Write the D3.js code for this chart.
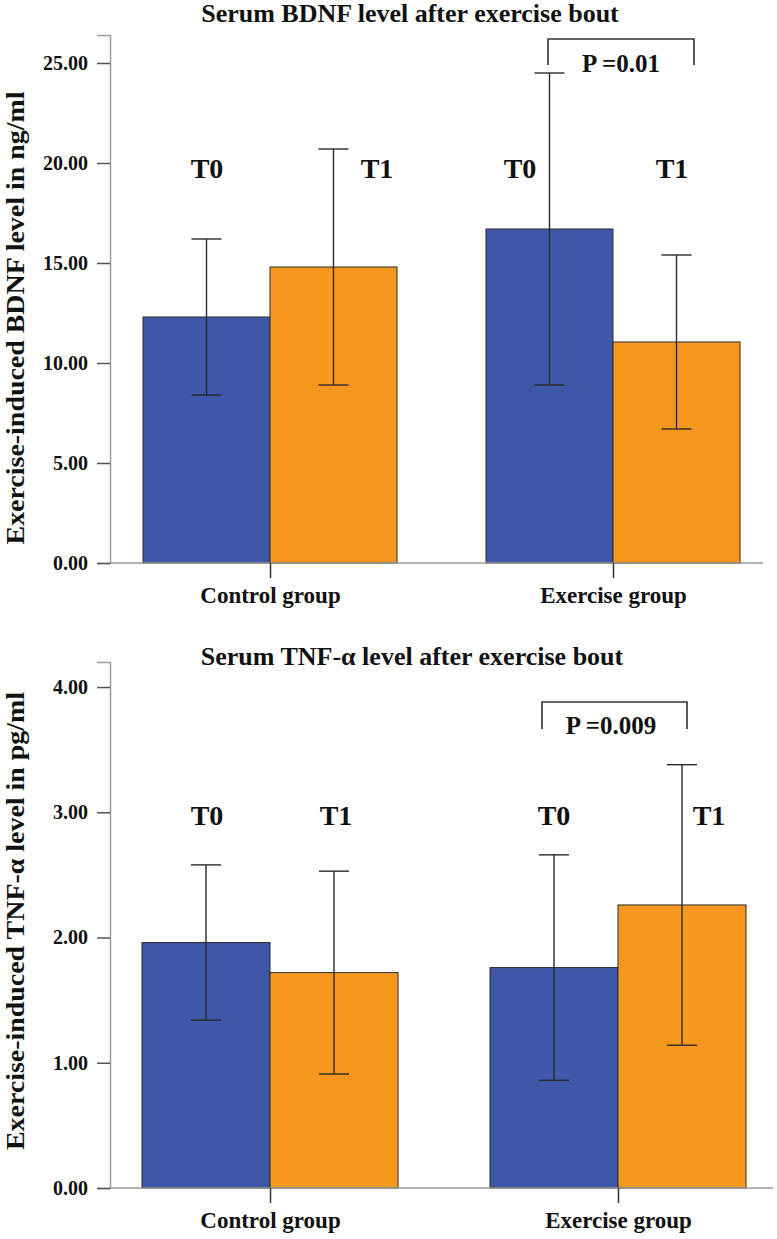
<!DOCTYPE html>
<html>
<head>
<meta charset="utf-8">
<script src="https://cdn.jsdelivr.net/npm/d3@7"></script>
<style>
  html, body { margin: 0; padding: 0; background: #fff; }
  svg { display: block; }
  text { font-family: "Liberation Serif", "Times New Roman", Times, serif; font-weight: bold; fill: #111; }
</style>
</head>
<body>
<svg id="chart" width="777" height="1239"></svg>
<script>
// ---- data ----
const groups = ["Control group", "Exercise group"];
const times = ["T0", "T1"];

const bdnfT0 = [12.3, 16.7];
const bdnfT1 = [14.8, 11.05];
const bdnfErrT0 = [3.9, 7.8];
const bdnfErrT1 = [5.9, 4.35];
const bdnfTicks = [0, 5, 10, 15, 20, 25];

const tnfT0 = [1.96, 1.76];
const tnfT1 = [1.72, 2.26];
const tnfErrT0 = [0.62, 0.90];
const tnfErrT1 = [0.81, 1.12];
const tnfTicks = [0, 1, 2, 3, 4];

const colors = { T0: "#3f57a9", T1: "#f7981e" };
const FONT = "'Liberation Serif', 'Times New Roman', Times, serif";

const svg = d3.select("#chart");

function panel(cfg) {
  const g = svg.append("g");
  const y = d3.scaleLinear().domain([0, cfg.yMax]).range([cfg.y0, cfg.yTop]);
  const x = d3.scalePoint().domain(groups).range(cfg.centers);
  const inner = d3.scaleBand().domain(times).range([-cfg.half, cfg.half]).padding(0);

  const rows = [];
  groups.forEach((grp, i) => {
    rows.push({ grp, t: "T0", v: cfg.t0[i], e: cfg.e0[i] });
    rows.push({ grp, t: "T1", v: cfg.t1[i], e: cfg.e1[i] });
  });

  // title
  g.append("text").attr("x", cfg.titleX).attr("y", cfg.titleY)
    .attr("text-anchor", "middle").style("font-size", "26px").style("font-family", FONT)
    .text(cfg.title);

  // y label
  g.append("text")
    .attr("transform", `translate(${cfg.ylabX},${cfg.ylabY}) rotate(-90)`)
    .attr("text-anchor", "middle").style("font-size", "25px").style("font-family", FONT)
    .attr("textLength", cfg.ylabLen).attr("lengthAdjust", "spacingAndGlyphs")
    .text(cfg.ylab);

  // bars
  g.selectAll("rect.bar").data(rows).enter().append("rect")
    .attr("x", d => x(d.grp) + inner(d.t))
    .attr("width", inner.bandwidth())
    .attr("y", d => y(d.v))
    .attr("height", d => y(0) - y(d.v))
    .attr("fill", d => colors[d.t])
    .attr("stroke", "#2b2b2b").attr("stroke-width", 1);

  // error bars
  const ex = d => x(d.grp) + inner(d.t) + inner.bandwidth() / 2;
  const eb = g.selectAll("g.err").data(rows).enter().append("g")
    .attr("stroke", "#2a2a2a").attr("stroke-width", 1.4);
  eb.append("line").attr("x1", ex).attr("x2", ex)
    .attr("y1", d => y(d.v + d.e)).attr("y2", d => y(d.v - d.e));
  eb.append("line").attr("x1", d => ex(d) - 15).attr("x2", d => ex(d) + 15)
    .attr("y1", d => y(d.v + d.e)).attr("y2", d => y(d.v + d.e));
  eb.append("line").attr("x1", d => ex(d) - 15).attr("x2", d => ex(d) + 15)
    .attr("y1", d => y(d.v - d.e)).attr("y2", d => y(d.v - d.e));

  // y axis
  const ya = d3.axisLeft(y).tickValues(cfg.ticks).tickFormat(d3.format(".2f"))
    .tickSize(13).tickPadding(9);
  const yg = g.append("g").attr("transform", `translate(${cfg.xAxis},0)`).call(ya);
  yg.select(".domain").attr("stroke", "#9a9a9a").attr("stroke-width", 1.5);
  yg.selectAll(".tick line").attr("stroke", "#555").attr("stroke-width", 1.5);
  yg.selectAll(".tick text").style("font-size", "20px")
    .style("font-family", FONT).style("font-weight", "bold").attr("fill", "#111");

  // x baseline
  g.append("line").attr("x1", cfg.xAxis).attr("x2", cfg.xEnd)
    .attr("y1", y(0)).attr("y2", y(0)).attr("stroke", "#9a9a9a").attr("stroke-width", 1.5);

  // x axis (category ticks + labels)
  const xa = d3.axisBottom(x).tickSize(15).tickPadding(cfg.xPad);
  const xg = g.append("g").attr("transform", `translate(0,${y(0)})`).call(xa);
  xg.select(".domain").remove();
  xg.selectAll(".tick line").attr("stroke", "#333").attr("stroke-width", 1.5);
  xg.selectAll(".tick text").style("font-size", "23px")
    .style("font-family", FONT).style("font-weight", "bold").attr("fill", "#111");

  // T0 / T1 labels
  cfg.tlabels.forEach(tl => {
    g.append("text").attr("x", tl[0]).attr("y", cfg.tY)
      .attr("text-anchor", "middle").style("font-size", "28px").style("font-family", FONT)
      .text(tl[1]);
  });

  // significance bracket
  const b = cfg.bracket;
  g.append("path")
    .attr("d", `M${b.x1},${b.yLeg}V${b.y}H${b.x2}V${b.yLeg}`)
    .attr("fill", "none").attr("stroke", "#333").attr("stroke-width", 1.6);
  g.append("text").attr("x", b.tx).attr("y", b.ty)
    .attr("text-anchor", "middle").style("font-size", "25px").style("font-family", FONT)
    .text(b.label);
}

panel({
  title: "Serum BDNF level after exercise bout", titleX: 410, titleY: 22,
  ylab: "Exercise-induced BDNF level in ng/ml", ylabX: 24, ylabY: 318, ylabLen: 453,
  yMax: 26.4, y0: 563, yTop: 35, ticks: bdnfTicks,
  centers: [270, 613], half: 127, xAxis: 110, xEnd: 763, xPad: 9,
  t0: bdnfT0, t1: bdnfT1, e0: bdnfErrT0, e1: bdnfErrT1,
  tY: 178, tlabels: [[207, "T0"], [377, "T1"], [520, "T0"], [672, "T1"]],
  bracket: { x1: 548, x2: 694, y: 39, yLeg: 65, tx: 621, ty: 72, label: "P =0.01" }
});

panel({
  title: "Serum TNF-α level after exercise bout", titleX: 412, titleY: 665,
  ylab: "Exercise-induced TNF-α  level in pg/ml", ylabX: 24, ylabY: 921, ylabLen: 458,
  yMax: 4.2, y0: 1188, yTop: 662, ticks: tnfTicks,
  centers: [270, 618], half: 128, xAxis: 110, xEnd: 773, xPad: 9,
  t0: tnfT0, t1: tnfT1, e0: tnfErrT0, e1: tnfErrT1,
  tY: 825, tlabels: [[207, "T0"], [336, "T1"], [554, "T0"], [709, "T1"]],
  bracket: { x1: 542, x2: 687, y: 702, yLeg: 729, tx: 611, ty: 734, label: "P =0.009" }
});
</script>
</body>
</html>
